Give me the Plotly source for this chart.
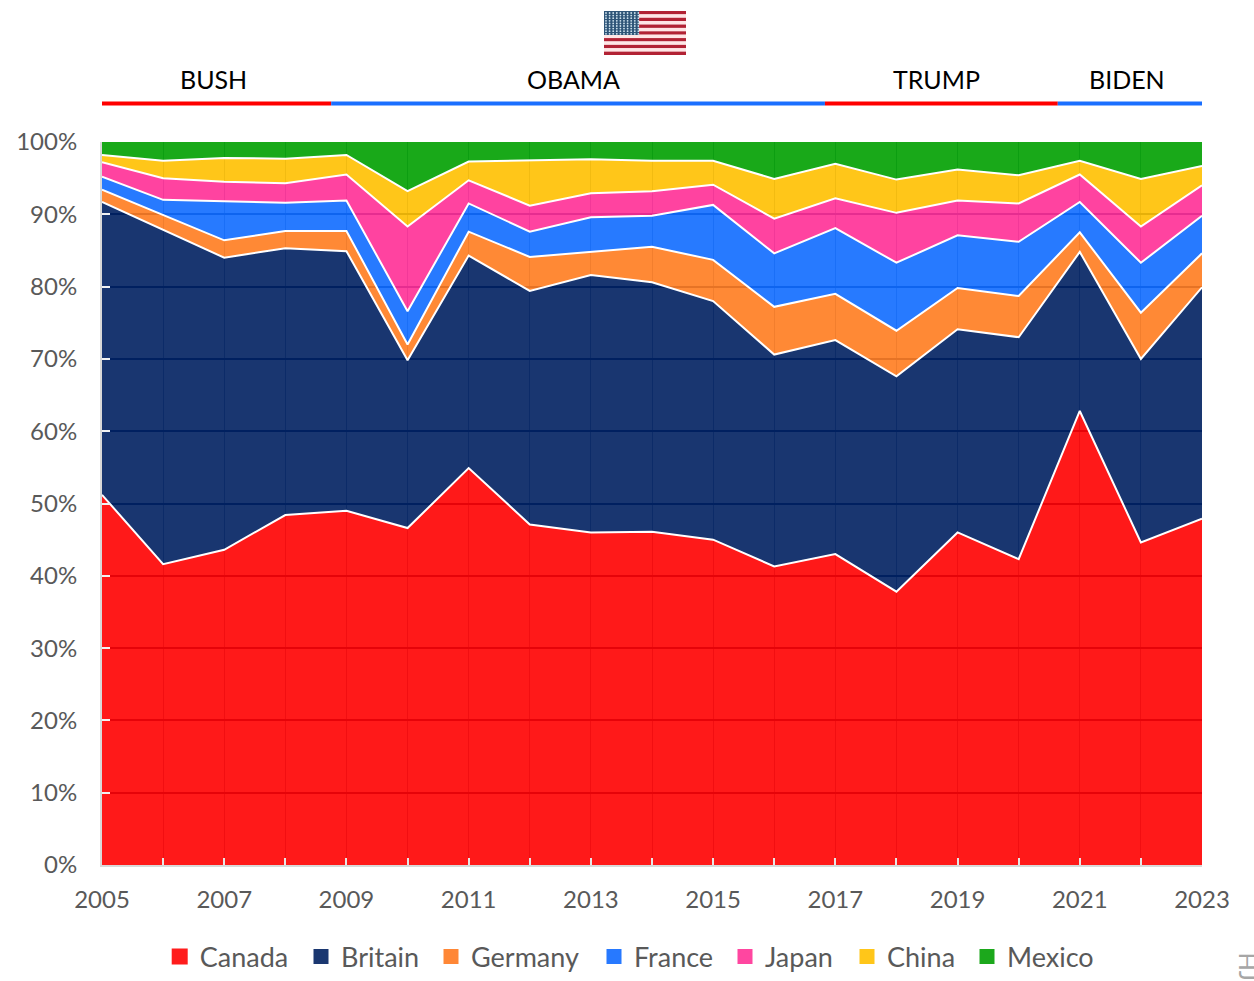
import base64
import plotly.graph_objects as go

years = list(range(2005, 2024))
canada = [51.2, 41.6, 43.6, 48.4, 49.0, 46.6, 54.9, 47.1, 46.0, 46.1, 45.0, 41.3, 43.0, 37.8, 46.0, 42.3, 62.8, 44.6, 47.9]
britain = [40.5, 46.2, 40.4, 36.9, 35.9, 23.2, 29.4, 32.3, 35.6, 34.5, 33.0, 29.3, 29.6, 29.8, 28.1, 30.7, 22.0, 25.4, 32.0]
germany = [1.7, 2.1, 2.4, 2.4, 2.8, 2.2, 3.3, 4.7, 3.2, 4.9, 5.7, 6.6, 6.4, 6.3, 5.7, 5.7, 2.7, 6.4, 4.7]
france = [1.8, 2.1, 5.4, 3.9, 4.2, 4.6, 3.9, 3.5, 4.8, 4.3, 7.6, 7.4, 9.1, 9.4, 7.3, 7.5, 4.2, 6.9, 5.2]
japan = [2.0, 3.0, 2.7, 2.7, 3.6, 11.7, 3.2, 3.6, 3.3, 3.4, 2.8, 4.8, 4.1, 6.9, 4.8, 5.3, 3.8, 5.0, 4.2]
china = [1.0, 2.4, 3.3, 3.4, 2.7, 4.9, 2.6, 6.2, 4.7, 4.2, 3.3, 5.5, 4.8, 4.6, 4.3, 3.9, 1.9, 6.6, 2.7]
mexico = [1.8, 2.6, 2.2, 2.3, 1.8, 6.8, 2.7, 2.6, 2.4, 2.6, 2.6, 5.1, 3.0, 5.2, 3.8, 4.6, 2.6, 5.1, 3.3]

names = ["Canada", "Britain", "Germany", "France", "Japan", "China", "Mexico"]
series = [canada, britain, germany, france, japan, china, mexico]
fills = ["rgba(255,0,0,0.9)", "rgba(0,32,96,0.9)", "rgba(255,124,31,0.9)", "rgba(15,107,255,0.9)",
         "rgba(255,47,150,0.9)", "rgba(255,192,0,0.9)", "rgba(0,160,0,0.9)"]
swatch = ["#ff1c1c", "#1a3770", "#ff8736", "#2779ff", "#ff46a0", "#ffc619", "#1ca81c"]
swatch_size = [17, 15, 15, 15, 15, 15, 15]
legend_text_x = [199.7, 341, 471, 634, 765, 887, 1007]

eras = ["BUSH", "OBAMA", "TRUMP", "BIDEN"]
era_start = [2005, 2008.75, 2016.83, 2020.64]
era_end = [2008.75, 2016.83, 2020.64, 2023.03]
era_mid = [2006.82, 2012.71, 2018.66, 2021.77]
era_color = ["#ff0000", "#1a6fff", "#ff0000", "#1a6fff"]

FONT = "Lato"
GREY = "#595959"

W, H = 1254, 981
L, R, T, B = 102, 1202, 142, 865

fig = go.Figure()
for name, vals, fc in zip(names, series, fills):
    fig.add_trace(go.Scatter(
        x=years, y=vals, name=name, mode="lines", stackgroup="one", fillcolor=fc,
        line=dict(color="white", width=0 if name == "Mexico" else 2),
        showlegend=False, hovertemplate=name + " %{x}: %{y:.1f}%<extra></extra>"))
legends = {}
for i, (name, sw, sz, tx) in enumerate(zip(names, swatch, swatch_size, legend_text_x)):
    key = "legend" if i == 0 else f"legend{i + 1}"
    fig.add_trace(go.Scatter(x=[None], y=[None], name=name, mode="markers", legend=key,
                             marker=dict(symbol="square", size=sz, color=sw)))
    legends[key] = dict(orientation="h", xref="container", yref="container", xanchor="left", yanchor="middle",
                        x=(tx - 40) / W, y=1 - 957 / H, itemwidth=30,
                        font=dict(family=FONT, size=27, color=GREY), bgcolor="rgba(0,0,0,0)")

shapes = []
for s, e, c in zip(era_start, era_end, era_color):
    shapes.append(dict(type="line", xref="x", yref="paper", x0=s, x1=e,
                       y0=(B - 103.5) / (B - T), y1=(B - 103.5) / (B - T),
                       line=dict(color=c, width=4)))

anns = [dict(text=t, xref="x", yref="paper", x=m, y=(B - 79) / (B - T), showarrow=False,
             xanchor="center", yanchor="middle", font=dict(family=FONT, size=25, color="#000000"))
        for t, m in zip(eras, era_mid)]
anns.append(dict(text="HJ", xref="paper", yref="paper", x=(1248 - L) / (R - L), y=(B - 966.5) / (B - T),
                 textangle=90, showarrow=False, xanchor="center", yanchor="middle",
                 font=dict(family=FONT, size=24, color="#a6a6a6")))

stripes = "".join(f'<rect x="0" y="{i*44/13:.2f}" width="82" height="{44/13:.2f}" fill="{"#b22234" if i%2==0 else "#ffe6e6"}"/>' for i in range(13))
dots = "".join(f'<circle cx="{2+x*3.6:.1f}" cy="{2+y*2.6:.1f}" r="0.9" fill="#cfe3ee"/>' for y in range(9) for x in range(10))
svg = f'<svg xmlns="http://www.w3.org/2000/svg" width="82" height="44" viewBox="0 0 82 44" preserveAspectRatio="none">{stripes}<rect x="0" y="0" width="35" height="24" fill="#2f5578"/>{dots}</svg>'
flag = "data:image/svg+xml;base64," + base64.b64encode(svg.encode()).decode()

fig.update_layout(
    width=W, height=H, autosize=False,
    margin=dict(l=L, r=W - R, t=T, b=H - B, pad=0),
    paper_bgcolor="white", plot_bgcolor="white",
    font=dict(family=FONT, color=GREY, size=24),
    shapes=shapes, annotations=anns,
    images=[dict(source=flag, xref="paper", yref="paper", x=(604 - L) / (R - L), y=(B - 11) / (B - T),
                 sizex=82 / (R - L), sizey=44 / (B - T), sizing="stretch", xanchor="left", yanchor="top", layer="above")],
    xaxis=dict(range=[2005, 2023], tick0=2005, dtick=2, showgrid=True, gridcolor="rgba(0,32,96,0.5)", gridwidth=1,
               minor=dict(dtick=1, tick0=2005, showgrid=True, gridcolor="rgba(0,32,96,0.5)", gridwidth=1,
                          ticks="inside", ticklen=7, tickcolor="#e6e6e6", tickwidth=2),
               ticks="inside", ticklen=7, tickcolor="#e6e6e6", tickwidth=2, automargin=False,
               showline=True, linecolor="#d9d9d9", linewidth=2, zeroline=False, layer="above traces",
               ticklabelstandoff=12, tickfont=dict(family=FONT, size=24, color=GREY), fixedrange=True),
    yaxis=dict(range=[0, 100], tick0=0, dtick=10, ticksuffix="%", showgrid=True, gridcolor="#002060", gridwidth=2,
               ticks="inside", ticklen=8, tickcolor="#f2f2f2", tickwidth=2, automargin=False,
               showline=True, linecolor="#d9d9d9", linewidth=2, zeroline=False, layer="above traces",
               ticklabelstandoff=18, tickfont=dict(family=FONT, size=24, color=GREY), fixedrange=True),
    **legends,
)
fig.write_html("out.html", config=dict(displayModeBar=False),
               post_script="document.body.style.margin='0';document.body.style.overflow='hidden';")
